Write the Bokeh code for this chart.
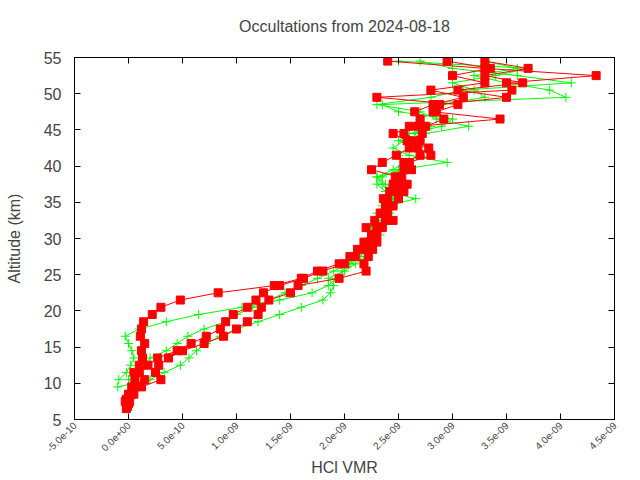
import math
from bokeh.plotting import figure
from bokeh.models import LinearAxis, FixedTicker, Range1d, CustomLabelingPolicy
from bokeh.embed import file_html
from bokeh.resources import INLINE

SCALE = 1e-9  # values below are in units of 1e-9 VMR

red_alt_1 = [6.5, 7.5, 8.5, 9.5, 10.5, 11.5, 12.5, 13.5, 14.5, 15.5, 16.5, 17.5, 18.5, 19.5, 20.5, 21.5, 22.5, 23.5, 24.5, 25.5, 26.5, 27.5, 28.5, 29.5, 30.5, 31.5, 32.5, 33.5, 34.5, 35.5, 36.5, 37.5, 38.5, 39.5, 40.5, 41.5, 42.5, 43.5, 44.5, 45.5, 46.5, 47.5, 48.5, 49.5, 50.5, 51.5, 52.5, 53.5, 54.5]
red_vmr_1 = [-0.02, -0.03, 0.0, 0.03, 0.06, 0.05, 0.1, 0.13, 0.12, 0.15, 0.11, 0.12, 0.14, 0.22, 0.3, 0.48, 0.83, 1.35, 1.6, 1.75, 1.95, 2.05, 2.12, 2.18, 2.25, 2.3, 2.28, 2.33, 2.38, 2.36, 2.42, 2.5, 2.47, 2.55, 2.6, 2.8, 2.68, 2.62, 2.72, 2.75, 2.92, 2.85, 3.05, 2.3, 3.55, 3.5, 4.33, 3.3, 2.4]

red_alt_2 = [6.8, 7.5, 8.5, 9.5, 10.5, 11.5, 12.5, 13.5, 14.5, 15.5, 16.5, 17.5, 18.5, 19.5, 20.5, 21.5, 22.5, 23.5, 24.5, 25.5, 26.5, 27.5, 28.5, 29.5, 30.5, 31.5, 32.5, 33.5, 34.5, 35.5, 36.5, 37.5, 38.5, 39.5, 40.5, 41.5, 42.5, 43.5, 44.5, 45.5, 46.5, 47.5, 48.5, 49.5, 50.5, 51.5, 52.5, 53.5, 54.5]
red_vmr_2 = [-0.01, 0.01, 0.05, 0.12, 0.3, 0.25, 0.28, 0.37, 0.5, 0.7, 0.88, 1.0, 1.1, 1.2, 1.23, 1.3, 1.5, 1.57, 1.95, 2.2, 2.18, 2.22, 2.26, 2.3, 2.28, 2.35, 2.45, 2.4, 2.42, 2.5, 2.55, 2.58, 2.53, 2.62, 2.55, 2.7, 2.78, 2.58, 2.45, 2.68, 3.44, 2.82, 2.88, 3.5, 3.05, 3.65, 3.3, 3.7, 3.3]

red_alt_3 = [7.2, 7.8, 8.5, 9.5, 10.5, 11.5, 12.5, 13.5, 14.5, 15.5, 16.5, 17.5, 18.5, 19.5, 20.5, 21.5, 22.5, 23.5, 24.5, 25.5, 26.5, 27.5, 28.5, 29.5, 30.5, 31.5, 32.5, 33.5, 34.5, 35.5, 36.5, 37.5, 38.5, 39.5, 40.5, 41.5, 42.5, 43.5, 44.5, 45.5, 46.5, 47.5, 48.5, 49.5, 50.5, 51.5, 52.5, 53.5, 54.5]
red_vmr_3 = [0.0, -0.02, 0.03, 0.05, 0.15, 0.1, 0.18, 0.27, 0.45, 0.58, 0.72, 0.85, 0.9, 0.97, 1.1, 1.18, 1.25, 1.4, 1.62, 1.8, 2.0, 2.1, 2.2, 2.22, 2.3, 2.2, 2.38, 2.35, 2.45, 2.4, 2.48, 2.45, 2.5, 2.25, 2.35, 2.48, 2.6, 2.7, 2.55, 2.6, 2.7, 2.65, 2.82, 3.1, 2.8, 3.3, 3.0, 3.35, 2.95]

green_alt_1 = [10.5, 11.5, 12.5, 13.5, 14.5, 15.5, 16.5, 17.5, 18.5, 19.5, 20.5, 21.5, 22.5, 23.5, 24.5, 25.5, 26.5, 27.5, 28.5, 29.5, 30.5, 31.5, 32.5, 33.5, 34.5, 35.5, 36.5, 37.5, 38.5, 39.5, 40.5, 41.5, 42.5, 43.5, 44.5, 45.5, 46.5, 47.5, 48.5, 49.5, 50.5, 51.5, 52.5, 53.5, 54.5]
green_vmr_1 = [-0.09, -0.02, 0.02, 0.05, 0.03, 0.0, -0.03, 0.1, 0.35, 0.65, 1.05, 1.4, 1.7, 1.85, 1.92, 1.98, 2.05, 2.1, 2.15, 2.2, 2.28, 2.25, 2.3, 2.35, 2.4, 2.66, 2.38, 2.3, 2.35, 2.5, 2.95, 2.6, 2.45, 2.55, 2.75, 3.15, 2.85, 2.7, 2.3, 2.8, 3.1, 4.1, 3.6, 3.0, 2.7]

green_alt_2 = [9.5, 10.5, 11.5, 12.5, 13.5, 14.5, 15.5, 16.5, 17.5, 18.5, 19.5, 20.5, 21.5, 22.5, 23.5, 24.5, 25.5, 26.5, 27.5, 28.5, 29.5, 30.5, 31.5, 32.5, 33.5, 34.5, 35.5, 36.5, 37.5, 38.5, 39.5, 40.5, 41.5, 42.5, 43.5, 44.5, 45.5, 46.5, 47.5, 48.5, 49.5, 50.5, 51.5, 52.5, 53.5, 54.5]
green_vmr_2 = [-0.1, 0.2, 0.33, 0.48, 0.56, 0.63, 0.72, 0.85, 1.0, 1.2, 1.4, 1.6, 1.8, 1.87, 1.9, 1.85, 2.0, 2.1, 2.2, 2.25, 2.3, 2.33, 2.3, 2.38, 2.42, 2.35, 2.45, 2.5, 2.38, 2.3, 2.55, 2.6, 2.7, 2.65, 2.5, 2.6, 2.9, 3.0, 2.5, 2.35, 4.05, 3.9, 3.5, 3.2, 3.6, 3.3]

green_alt_3 = [9.5, 10.5, 11.5, 12.5, 13.5, 14.5, 15.5, 16.5, 17.5, 18.5, 19.5, 20.5, 21.5, 22.5, 23.5, 24.5, 25.5, 26.5, 27.5, 28.5, 29.5, 30.5, 31.5, 32.5, 33.5, 34.5, 35.5, 36.5, 37.5, 38.5, 39.5, 40.5, 41.5, 42.5, 43.5, 44.5, 45.5, 46.5, 47.5, 48.5, 49.5, 50.5, 51.5, 52.5, 53.5, 54.5]
green_vmr_3 = [0.08, 0.0, 0.1, 0.15, 0.2, 0.35, 0.45, 0.55, 0.7, 0.9, 1.0, 1.15, 1.3, 1.45, 1.6, 1.75, 1.9, 2.05, 2.15, 2.2, 2.25, 2.3, 2.28, 2.35, 2.3, 2.4, 2.45, 2.4, 2.35, 2.3, 2.45, 2.55, 2.5, 2.6, 2.7, 2.65, 2.8, 2.7, 2.85, 2.9, 3.3, 3.2, 3.0, 3.4, 3.7, 2.5]

x_ticks = [-5e-10, 0.0, 5e-10, 1e-9, 1.5e-9, 2e-9, 2.5e-9, 3e-9, 3.5e-9, 4e-9, 4.5e-9]
x_tick_labels = ["-5.0e-10", "0.0e+00", "5.0e-10", "1.0e-09", "1.5e-09", "2.0e-09", "2.5e-09", "3.0e-09", "3.5e-09", "4.0e-09", "4.5e-09"]
y_ticks = [5, 10, 15, 20, 25, 30, 35, 40, 45, 50, 55]
X_MIN, X_MAX = -5e-10, 4.5e-9
Y_MIN, Y_MAX = 5, 55

FONT = "Liberation Sans"

p = figure(width=640, height=480, output_backend="svg", toolbar_location=None,
           x_range=Range1d(X_MIN, X_MAX), y_range=Range1d(Y_MIN, Y_MAX),
           title="Occultations from 2024-08-18",
           min_border_left=74, min_border_right=26, min_border_top=57, min_border_bottom=61)
p.title.align = "center"
p.title.text_font = FONT
p.title.text_font_size = "16px"
p.title.text_font_style = "normal"
p.title.standoff = 14
p.grid.visible = False
p.outline_line_color = "black"
p.outline_line_width = 1
p.background_fill_color = "white"
p.border_fill_color = "white"

def style_axis(ax):
    ax.major_tick_in = 6
    ax.major_tick_out = 0
    ax.minor_tick_in = 0
    ax.minor_tick_out = 0
    ax.axis_line_color = "black"
    ax.major_tick_line_color = "black"

hide_labels = CustomLabelingPolicy(code="""
const n = indices.size;
for (let i = 0; i < n; i++) { indices.unset(i); }
return indices;
""")

xa = p.xaxis[0]
xa.ticker = FixedTicker(ticks=x_ticks)
xa.major_label_overrides = {t: l for t, l in zip(x_ticks, x_tick_labels)}
xa.major_label_orientation = math.pi / 4
xa.major_label_text_font = FONT
xa.major_label_text_font_size = "10px"
xa.major_label_standoff = 4
xa.axis_label = "HCl VMR"
xa.axis_label_text_font = FONT
xa.axis_label_text_font_size = "16px"
xa.axis_label_text_font_style = "normal"
xa.axis_label_standoff = 1
style_axis(xa)

ya = p.yaxis[0]
ya.ticker = FixedTicker(ticks=y_ticks)
ya.major_label_text_font = FONT
ya.major_label_text_font_size = "16px"
ya.major_label_standoff = 13
ya.axis_label = "Altitude (km)"
ya.axis_label_text_font = FONT
ya.axis_label_text_font_size = "16px"
ya.axis_label_text_font_style = "normal"
ya.axis_label_standoff = 18
style_axis(ya)

top = LinearAxis(ticker=FixedTicker(ticks=x_ticks), major_label_policy=hide_labels)
style_axis(top)
p.add_layout(top, "above")
right = LinearAxis(ticker=FixedTicker(ticks=y_ticks), major_label_policy=hide_labels)
style_axis(right)
p.add_layout(right, "right")

GREEN = "#00ff00"
RED = "#ff0000"
for alt, vmr in [(green_alt_1, green_vmr_1), (green_alt_2, green_vmr_2), (green_alt_3, green_vmr_3)]:
    xs = [v * SCALE for v in vmr]
    p.line(xs, alt, line_color=GREEN, line_width=1)
    p.scatter(xs, alt, marker="cross", size=9, line_color=GREEN, line_width=1)

for alt, vmr in [(red_alt_1, red_vmr_1), (red_alt_2, red_vmr_2), (red_alt_3, red_vmr_3)]:
    xs = [v * SCALE for v in vmr]
    p.line(xs, alt, line_color=RED, line_width=1)
    p.scatter(xs, alt, marker="square", size=8, fill_color=RED, line_color=RED)

open("out.html", "w").write(file_html(p, INLINE))
